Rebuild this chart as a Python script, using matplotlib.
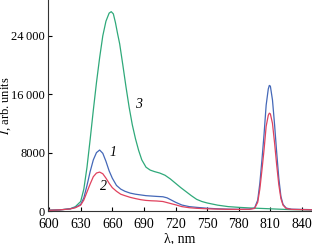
import numpy as np
import matplotlib
matplotlib.use("Agg")
import matplotlib.pyplot as plt

# wavelength (nm) and intensity
wl_green = [600, 610, 620, 625, 630, 633, 636, 639, 642, 645, 648, 651, 654, 657, 659, 661,
            663, 665, 667, 670, 673, 676, 679, 682, 685, 688, 692, 696, 700, 705, 710, 715,
            720, 725, 730, 735, 740, 745, 750, 760, 770, 780, 790, 800, 810, 820, 830, 850]
i_green = [100, 150, 300, 600, 1300, 3000, 6000, 9800, 13800, 17600, 21000, 24000, 26000, 27100, 27300, 27000,
           25800, 24300, 22900, 20000, 17000, 14200, 11800, 9900, 8300, 7000, 6000, 5600, 5400, 5200, 4900, 4400,
           3800, 3200, 2650, 2100, 1600, 1300, 1100, 800, 600, 500, 420, 360, 300, 240, 190, 150]

wl_blue = [600, 610, 620, 625, 630, 633, 636, 639, 642, 645, 648, 651, 654, 657, 660, 664,
           668, 672, 677, 682, 687, 692, 697, 702, 708, 712, 716, 720, 726, 733, 740, 750,
           760, 770, 780, 790, 795, 798, 800, 802, 804, 806, 808, 809, 810, 812, 814, 816,
           818, 820, 822, 825, 830, 850]
i_blue = [100, 150, 300, 500, 900, 1800, 3500, 5400, 7000, 8000, 8350, 7900, 6800, 5500, 4500, 3500,
          3000, 2700, 2450, 2300, 2200, 2100, 2050, 2000, 1950, 1800, 1500, 1200, 820, 600, 500, 380,
          300, 250, 230, 250, 400, 1500, 3800, 7000, 10500, 14500, 16700, 17200, 17100, 15200, 11800, 8000,
          4500, 2000, 900, 400, 250, 180]

wl_red = [600, 610, 620, 625, 630, 633, 636, 639, 642, 645, 648, 651, 654, 657, 660, 664,
          668, 672, 677, 682, 687, 692, 697, 702, 708, 712, 716, 720, 726, 733, 740, 750,
          760, 770, 780, 790, 795, 798, 800, 802, 804, 806, 808, 809, 810, 812, 814, 816,
          818, 820, 822, 825, 830, 850]
i_red = [100, 150, 280, 450, 800, 1500, 2600, 3700, 4700, 5200, 5330, 5100, 4500, 3800, 3200, 2700,
         2300, 2100, 1870, 1700, 1550, 1450, 1400, 1370, 1300, 1150, 1000, 850, 600, 450, 370, 300,
         260, 230, 220, 230, 350, 1200, 3000, 5600, 8400, 11600, 13100, 13400, 13300, 12000, 9300, 6300,
         3600, 1700, 800, 350, 220, 160]

yticks = [0, 8000, 16000, 24000]
ytick_labels = ["0", "8000", "16\u2009000", "24\u2009000"]
xticks = [600, 630, 660, 690, 720, 750, 780, 810, 840]

plt.rcParams["font.family"] = ["Liberation Serif", "DejaVu Serif"]
plt.rcParams["mathtext.fontset"] = "stix"

fig = plt.figure(figsize=(3.12, 2.44), dpi=100)
ax = fig.add_axes([48 / 312, 33 / 244, 264 / 312, 211 / 244])

ax.plot(wl_green, i_green, color="#2fa97a", lw=0.9)
ax.plot(wl_blue, i_blue, color="#4468b8", lw=0.9)
ax.plot(wl_red, i_red, color="#e0425e", lw=0.9)

ax.set_xlim(599, 849.5)
ax.set_ylim(0, 28900)
ax.set_xticks(xticks)
ax.set_yticks(yticks)
ax.set_yticklabels(ytick_labels)
ax.tick_params(direction="in", length=3, width=0.8, labelsize=10, pad=2)
ax.tick_params(axis="x", pad=5)
ax.tick_params(axis="y", labelsize=9, pad=2)
for s in ["top", "right"]:
    ax.spines[s].set_visible(False)
for s in ["left", "bottom"]:
    ax.spines[s].set_linewidth(0.8)
    ax.spines[s].set_color("#333333")

ax.text(657.5, 8000, "1", fontsize=10, style="italic", ha="left", va="center")
ax.text(648, 3300, "2", fontsize=10, style="italic", ha="left", va="center")
ax.text(682, 14600, "3", fontsize=10, style="italic", ha="left", va="center")

ax.set_xlabel("\u03bb, nm", fontsize=10, labelpad=1)
ax.set_ylabel("$I$, arb. units", fontsize=9)
ax.yaxis.set_label_coords(-0.132, 0.5)

fig.savefig("out.png", dpi=100)
